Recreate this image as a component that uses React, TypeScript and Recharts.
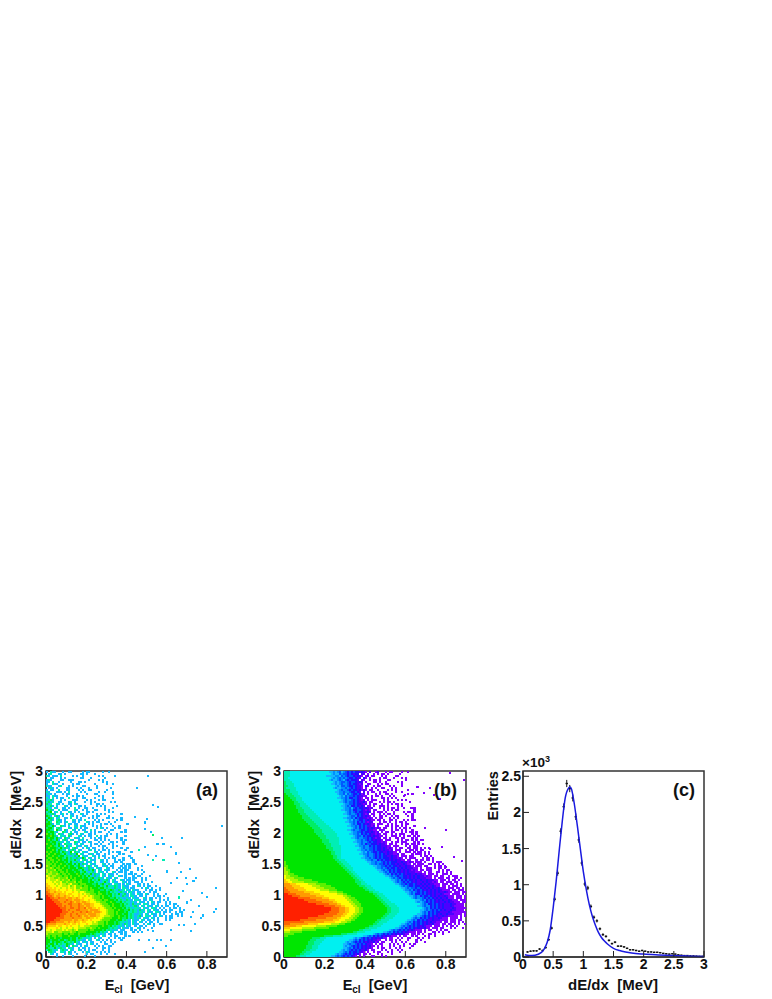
import React from 'react';
import {
  ScatterChart, ComposedChart, Scatter, Line, XAxis, YAxis, ReferenceArea, ErrorBar, Label,
} from 'recharts';

// colour levels of the 2D histograms, low to high
const LEVEL_COLORS: Record<string, string> = {
  a: '#8000ff', b: '#4c00ff', c: '#1a14ff', d: '#0058ff', e: '#0090ff', f: '#14b8ff',
  g: '#00f0f0', h: '#00eeb4', i: '#00ee64', j: '#00e600', k: '#5cf000', l: '#b0f400',
  m: '#ffff00', n: '#ffcc00', o: '#ff9a00', p: '#ff6400', q: '#ff2000',
};

// rows run top (3 MeV) to bottom (0 MeV). Before "|": letter + last column of that colour.
// After "|": one letter per column, "." is empty.
const HIST_A_ROWS = [
  '|f.hff...f..ff.....f.ff......f..f',
  '|.fh...ff.f.......ff.f...f',
  '|hf.fff.h.....f.f..f.......f.f.....f',
  '|..ff...f.f.......ff...f......f',
  '|fhf....ff..fff.......f....f.f',
  '|ff.h..f.....f...ff.f........f.f',
  '|f..hff..f....f.ff.......f.....f..f',
  '|hff...fh...f.f....ff.....f',
  '|.fhf.f....ff...f.f...f...f......f',
  '|f.ff..h...ff....f.f..ff.......f',
  '|hf...fff.f.h.....f.f......f..f...f',
  '|fhf.f...f.ff...f....f...ff.......f',
  '|ff.hff....f..f.ff.f.......f.f',
  '|hf.h.f.ff..h...f..ff....f...f....f',
  '|fhif...f.f...fff....f.f...f.ff',
  '|hifh..ff...fh.f....f..f.f.......f.f',
  '|ifh..hf.f..ff.hf......f..ff.f',
  '|hhif.f...hf.f...ff.f.....f.f.f.....f',
  '|ihf.hf..ff.f..h.f..ff..f.....f...f',
  '|jhif..h.fff...hf..f.f...ff...f.f',
  '|hij.fh.f...hf.f.f...ff.f.......f.f',
  '|ihhif..fh.f.ff...hf.f....f.f.f.......f',
  '|jif.hif.f...hf.f..ff...f.ff....f',
  '|hjih.fh..ff.h..f.f...f.f.f....ff.f...f',
  '|jhif.hif.f...hf.ff.h....f.f.f......f.f',
  '|ijh..ihf.fh..ff.f...hf.f.ff....f..f',
  '|jjif.hh..f.hf.ff...f.f.f...f.ff.f.......f',
  '|jihjf..ihf.f..hf.hff...f.f.f.....f..f',
  '|ijjh.hif...hf.fh.f.ff....f.hf.f...f.f',
  '|jjih.jhf.if..hf.f.ff..h.f....f..ff.....f',
  '|jijjhf..ihf.h.ff...hf.f.f.ff...f.....f.f',
  '|kjijh.ihf..hif.f.hf..ff.f.....f.f..f',
  '|jjkjif.hhf.if...hf.f.ff..h.f.ff....f...f',
  '|jijjhjhf.ihf..hff.h...f.f.ff.f.....f.f',
  '|jkjihjf.hif.hf..fhf.f...ff.f.f.f.....f.f',
  '|jjijjhihf.hf..ihf.ff.hf...f.f...ff.f..f',
  '|kjjijhjf.ihhf.hf.hf...f.ff.f...f.f....f',
  '|jjkjihjhf.ifh..hff.hf.f...f.ff...f.f',
  '|jkjjjihjhihf.hif..f.hf.ff...f.f..f...f..f',
  '|jjjkjhjihf.hhif.hf...fh.f.f.ff.f.......f',
  '|kjkjjijhjihfj.ihf.hff...hf.f...f.f.ff.....f',
  '|jkjjkjjihjhfihfj.hf..fhf.ff..f.f....f.f',
  '|kjjkjjijjhihfhifj.hff..hf.f.ff...f.f.....f',
  '|jkkjjkjjihjhihfihfjh.hf.f.h..f.f.ff...f...f',
  '|kjkkjjkjijjhihjhf.hif.hff..hf.f...f.f.f....f',
  '|kkjkjkjjjijhjhfihhf.fhf.h..ff.f...ff.f.....f',
  '|kkkjkjjkjjijjhjhjfihf.hff...hf.f.f....f.ff..f',
  '|lkjkkjkjjkjijjhijhf.hif.hf..fhf.ff...f.f.f.....f',
  '|kklkjkkjkjjijjjhjjihfihf.hff..hf.f..f.ff.f...f',
  '|lkkkljkkjjkjjijjihjhfihjf.hf.hff...f.f.ff....f.f',
  '|lklkkkjkkjkjjjijjhijhfhif.hhf.f..hf.ff.f..f.....f',
  '|kllkklkjkkjkjjjkjijhihjfihf.hf.hff.f...f.ff.f..f',
  '|mlkllkkkjkkjkjjjkjijhjhfifh.hf.fhf..hf.f...f.ff....f',
  '|lmllkklkkkljkjkjjjijjhijfhihf.hff.hf...f.f.ff..f.f',
  '|mmlllmlklkkljkkjjkjjjijhihjfhhif.hf..hf.ff.f...f.f',
  '|mmmlmllmkklkkkljkkjjjijjhihfhjhf.hff..hf.f..ff.f....f',
  '|nmmmlmlmllklmkkkjkkkjjjiijhijfhif.hhf.f.hf...ff.f.f',
  '|nnmmmlmmlllmklmkkkjkkjjjijjhihjfhhihf.hff..f.hf.f.ff..f',
  '|onnmnmmlmmlmllmkklkkkjkjjjijjhihhfihf.hhf.ff...f.hf.f...f',
  '|oonnnmnmmmnmmlmllkkkkjkkjjjiijhijihfifh.hf.hff...f.ff.f.f',
  '|ponnonnnmnmmmnmmlmmlkkkkjjkjjjijhihhfihf.hhf.ff.f..f.ff',
  '|ppoonnonnnmnnmmmnmlmllkkkjkkjjijjhihjfhif.hf.hff.hf..f.f...f',
  '|qpponoonnonnmnmmnmmnmlmlkkkjkjjijhihhfihf.hhf.ff.f...f.ff.f',
  '|qqppoopooonoonnonmnmmmmlkkkjkjjjiijhihffhf.hff..hf.ff.f.f...f',
  '|qqqpppoooopoonooonnmmnmmlkkkjkkjjjijhihfihf.hhf.ff.hf...f.f.f',
  '|qqqqpppoopooponoonoonnmmmllkkkjjkjjiijhihhfhf.hff.f.hf.ff..f.f',
  '|qqqqqpppoooppoooponooonnmmmlkkkjjkjjjijhihfifhf.hhf.ff.f...f.f.ff',
  '|qqqqqqppopoopooopoonoonnmmmmlkkkjkjjjijihhfhif.hf.hff.hf.f.ff..f.f',
  '|qqqqqqqpppooppoopoopnoonnmnmmlkkkjkjjjijhihfhhf.hff.hhf.f.f..f.ff.f',
  '|qqqqqqqqppopoooppoooonoooonmmmlkkkjjkjjiijhihfifh.hf.hff.f.f.ff...f.f',
  '|qqqqqqqqpppoopooopoopoonooonmmlkkkjkjjjijhhihfhhf.hff.hhf.ff.f..f.ff',
  '|qqqqqqqpppoopoopoooonoooonnmmmlkkkjkjjijjhihffhf.hf.hff.f.f...f.ff.f',
  '|qqqqqqqppooopoooponoonooonnmmlllkkjjkjjijhihfhif.hhf.ff.hf.f.ff..f.f',
  '|qqqqqppppoooopoooonnoonnmnmmlkkkkjjjkjiijhihfhf.hff.hf.f...f.ff',
  '|qqqqpppoooooonoonnonnmnmmmmlkkkkjjjijjhihf.hff.hf.ff.f.f...f.f',
  '|qqpppoooonnonnonnmnnmmmlmlkkkjkjjjijihhfhf.hf.hf.f.ff..f',
  '|poooonnnnonnmnnmnmmmnmmlllkkkjkjjjijihfihf.hff..f.hf.f..ff',
  '|onnnnmnnmmnmnmmmlmmlllkkkkjjkjjijhihfhf.hf..f.ff.f...f',
  '|nmmmmnmlmmlmmlmmllllkklkkjkjjjjihihhf.hff.f..hf.f...f',
  '|mmlmmlllmlmllklmkkkkkjkkjjjjijhihfhf.ff...f.f.f...f',
  '|lllmkkllkkkklkkjkkkkjjjjjijhihf.hf..ff.f...f.f',
  '|lkkkkkkkjkkjkkjjkjjjjjijihhfhf.ff.f..f.f',
  '|kkjkkjkkjjjkjjjjijjjhihfihf.hf..f.ff...f.f',
  '|jkjjkjjijjjjijjhjihfhhf.f.hf...f..f.f.f',
  '|jjijjjijjhijijjhihff.hf..hf.f.f.f....f',
  '|jjhjijjihjihihjhf.fhf.ff...f.f..f.f',
  '|jijjhjhihhjihf.hff..f.hf.f...ff..f',
  '|ijhjihihfhjf.ihf.f.hf...f.f.f..ff',
  '|jihhjhfihf.hhf..f.ff.f...f..ff.f',
  '|hjihfh.hihf.hf..hf.f.f.ff...f..f',
  '|.hihf..hhf.if.f...f.hf...f.f.f.f',
  '|..hf.f...f.hf..f....f.ff...f..f...f',
  '|.....f..f....f.....f....f',
];

// isolated entries of panel (a), read directly: [E, dE/dx, level]
const HIST_A_OUTLIERS: [number, number, string][] = [
  [0.506, 2.92, 'f'], [0.454, 2.72, 'f'], [0.534, 2.45, 'f'], [0.555, 2.42, 'f'], [0.444, 2.26, 'f'],
  [0.504, 2.22, 'f'], [0.494, 2.17, 'f'], [0.494, 2.07, 'f'], [0.524, 2.02, 'f'], [0.534, 1.97, 'i'],
  [0.575, 1.92, 'f'], [0.554, 1.82, 'f'], [0.584, 1.82, 'f'], [0.675, 1.92, 'f'], [0.623, 1.77, 'f'],
  [0.645, 1.67, 'f'], [0.873, 2.12, 'f'], [0.494, 1.77, 'f'], [0.462, 1.73, 'h'], [0.507, 1.64, 'f'],
  [0.545, 1.63, 'f'], [0.534, 1.57, 'h'], [0.584, 1.57, 'h'], [0.844, 1.12, 'f'], [0.802, 0.97, 'f'],
  [0.774, 1.03, 'f'], [0.844, 0.77, 'f'], [0.835, 0.72, 'f'], [0.722, 0.92, 'f'], [0.703, 1.18, 'f'],
  [0.698, 1.27, 'f'], [0.744, 1.27, 'f'], [0.733, 1.22, 'f'], [0.714, 1.42, 'f'], [0.67, 1.37, 'f'],
  [0.653, 1.27, 'f'], [0.761, 0.83, 'f'], [0.781, 0.67, 'f'], [0.77, 0.63, 'f'], [0.741, 0.53, 'f'],
  [0.722, 0.42, 'f'], [0.686, 0.52, 'f'], [0.595, 0.18, 'f'], [0.623, 0.27, 'f'], [0.57, 0.27, 'f'],
  [0.553, 0.27, 'f'], [0.512, 0.27, 'f'], [0.534, 0.42, 'f'], [0.534, 0.14, 'f'], [0.492, 0.08, 'f'],
  [0.462, 0.27, 'f'], [0.479, 0.4, 'f'], [0.66, 1.52, 'f'], [0.6, 1.38, 'f'], [0.62, 1.2, 'f'],
  [0.68, 1.06, 'f'], [0.66, 0.96, 'h'], [0.7, 0.88, 'f'], [0.73, 0.73, 'f'], [0.72, 0.64, 'f'],
  [0.66, 0.52, 'f'], [0.62, 0.44, 'f'],
];

const HIST_B_ROWS = [
  'h3g22|ffefedfedcdcdccbcba.b..ab...a.aa....a..a',
  'h3g23|feffdeddcdcbcc.bb.a..a.a.aa.a.....a',
  'h3g21|ffffeefdedcddcbcba.ab.aa...a.a....aa',
  'h2g23|fefedededccdcbb.ca.a....a.aa...a...a.a',
  'h3g22|feffedefdcdcccb.ba..a.aa.a...aa.......a',
  'i1h4g24|fefeddedcddcbcb.a...aa.a..a.....a.a',
  'i1h5g23|ffefedeedcdccbab..aa...a.a.aa......a',
  'i2h5g25|fefddedccdcbba.ca..a.aa....a.a...a',
  'i1h6g24|feffeededcdcbba.a..a.a..aa...a.a',
  'i3h6g26|fedeedcdccbcaba.aa..a....a.a.a.....a',
  'i3h7g25|ffeedeedccdcb.b.a.aa..a.aa....a..a',
  'j1i4h7g26|feedfdedccdcab.a...a.a..aa.a.......a.a',
  'j2i5h8g27|fefdeddcdcbbaa..a.aa.a...a.a....a',
  'j3i6h9g26|ffeedeccddcba.aa.a....aa.a.a.a',
  'j4i6h9g28|fedeedcdcbab.a.aaa...a.a....a.a.a',
  'j5i7h10g27|ffededdcdcbbca.aa...a.a.aa.a.......a',
  'j5i8h11g29|feeddcdccbab.a.aa..a..a.a.aa.a',
  'j6i8h12g28|ffedeccdcbcb.aa.a..aaa.a....a.a',
  'j6i9h13g29|feedfdcdccbcbab...a.a.a.aa.a..a....a',
  'j7i10h14g28|ffeedeccddcbaba.aa...a.a.a.aa.......a',
  'j7i10h15g30|fededcdccbbcb.a.aaa.a...a....a.aa.a',
  'j8i11h16g29|ffedeedcdcbab.aa..a.a.aa.a.....a..a',
  'j9i12h17g31|feddecdcbcba.a..aa.a..a.aa....a.a',
  'j9i13h18g29|ffeedecdccbbaba.a.aa...a.a.a......a',
  'j10i14h19g31|fefdedccdbcbaa.aa.a..aa.a...a.a.aa',
  'j11i15h20g30|ffeedecdcdbabb...a.aa.a..a.aa.a',
  'j12i16h21g32|fedeccdcbcbaa.aaa..a.a.a..a.aa',
  'j13i17h22g31|ffeedecdcdbbab.a...aa.a.aa.a.a...a',
  'j14i18h23g33|fedecdcdcbcbaba.aa..a.a.a.aa.a......a',
  'j15i19h24g31|ffedeedccdcbbaa.aaa...a.aa.a.a..a',
  'j15i19h25g33|feeddcdccbcbab.a.aa.aa...a.a.aa.a',
  'j16i20h26g32|ffeedecdcdcbbaba.aa..a.a.aaa...a.a',
  'j17i21h26g34|feddecdccbcbbaa.a..aaa.a.a.aa.a.a',
  'j18i21h27g33|ffedeeddcdcbabb.aa.a..aa.aa...a.a',
  'j19i22h27g35|feededcdcbcbba.aaa...a.a.aa.a.a.aa',
  'j19i22h27g34|ffeedeedcdccbbaba..a.aa.aaa...a.a',
  'j20i23h27g36|fedecddcccbcbba.aa.a..a.aa.aa.a.a',
  'j21i23h28g35|ffeedeecdcdccbbbaa.aaa...a.a.aa',
  'j21i24h28g37|fedeeddcdccbcbaba.a.aa..aa.aa.a.a.a',
  'j22i24h28g36|ffeededdcdccbcbbab.aaa..a.aa.a.aa',
  'j23i25h28g38|fefdedccdccbbcbbaa.a..aaa.a.aa.a.a',
  'j23i25h28g37|ffeedeedcdcdcbcbbaab.aa...a.aaa.a.a',
  'j24i26h28g39|fedeedcdcdccbbcbba.aaa.aa...a.aa.a',
  'j24i26h28g38|ffeededcdcdcccbcbbaba.a.aaa...a.aa.a',
  'j25i27h30g40|feedeecdcdccbcbcbbaa.aa..a.aa.aa.a',
  'k1j26i28h31g41|ffeedeedcdcdcccbbcbbaba.aaa.a...a.aaa',
  'k1j27i29h32g42|feededdcdcdccbcbbcbaa.a.aaa..aa.a.a.a',
  'k2j28i30h33g44|ffeeddcdcdccbcbbcbba.aaa.aa...a.aa.a',
  'l1k2j29i31h34g45|feededcdccdcbcbcbbbaa.a..aaa.a.aa.a',
  'l1k3j30i32h34g46|ffededcdcdccbcbcbaba.aa.aaa...a.a.aa',
  'l2k3j31i33h35g47|ffedecdcdccbcbcbbbaaa.a.aa..aa.a.a.a',
  'l2k5j32i34h36g49|fedecdcdcdcbccbbcbbaa.aaa.a..aaa.a',
  'm1l3k7j33i35h37g50|ffededcddccbcbcbcbbabaa.aa.aa..a.aaa',
  'm1l5k10j34i36h38g52|fededcdccbcbcbcbbbaaa.a.aaa.aa..aa.a',
  'n1m3l7k14j35i37h39g53|ffedecdcdccbcbcbbcbbbaa.aaa.a.aa.a',
  'n2m4l10k17j35i38h40g54|fededcdcdcbcbbcbcbbaba.aa.aaa.aa',
  'o3n6m12l16k21j36i38h41g55|ffeddcdccdcbcbcbcbbaaa.aaa.aa.a.a',
  'o4n8m14l18k23j37i40h43g57|fededccdccbcbcbbcbaa.aa.a.aaa.a',
  'p1o5n10m16l20k25j39i41h44g58|ffededdcdcbcbcbcbbcaaa.aaa.aa.a',
  'p2o7n11m18l22k26j40i42h45g59|feedecdcdcbcbcbcbcbaaaa.aa.aaa',
  'p3o10n15m22l26k29j42i44h47g60|ffededcdcdcbcbcbcbbcbaa.aaa.aa',
  'q2p6o13n18m26l29k31j44i46h49g61|fedeccdcdcbcbcbbcbaaa.aaaa.a',
  'q4p8o16n20m29l31k33j45i47h50g62|ffedecdccdcbcbcbbcbaaa.aaa.a',
  'q7p13o19n22m30l32k35j46i48h51g63|fedeedcdcdcbcbcbbcaaa.aaa.a',
  'q10p16o22n25m31l33k36j47i49h52g65|ffedecdcdcbcbcbbcbaaa.aaa',
  'q12p19o24n26m32l34k37j48i50h53g65|fefedcdcdcbcbbcbcbbaaa.aa',
  'q16p22o26n28m33l35k38j49i51h55g67|fedeccdcdcbcbbbcbbaaaa.a',
  'q20p25o28n30m34l36k38j50i52h56g66|ffedeecdcdcbcbbbcbaaaaa',
  'q23p27o30n32m35l37k39j51i53h57g68|fedecdcdcbcbbbbcbaaaaaa',
  'q23p27o30n32m35l37k39j51i53h57g67|ffededcdcdcbcbbcbbaaaa.',
  'q22p27o30n32m35l37k39j51i53h57g67|fedecdcdccbbbbcbaaaaaaa',
  'q20p26o29n31m34l36k38j50i52h56g66|ffedecdcdcbcbbcbbbaaaa.a',
  'q17p24o28n30m33l35k37j49i51h55g64|fefedcdcdcbcbbcbbaaaaa.a.a',
  'q12p21o26n28m32l34k36j48i50h54g63|fedecdcdcbcbbcbaaa.aaaa.a',
  'q8p16o24n27m30l33k35j46i48h52g61|ffedecdcdcbbcbbbaaaa.aaa.aa',
  'p10o20n25m28l31k33j45i47h51g60|fedecdcdcbcbcbbaaa.aa.aaa.a.a',
  'p3o12n17m23l27k30j44i46h49g58|ffededcdcdcbcbbcaaa.aa.aa.a.a..a',
  'o6n9m16l21k26j42i44h48g57|fededcdcdcbcbaaa.aaa.a.a.aa.a',
  'n3m9l15k22j40i42h46g55|ffedecdcdcbcbbcaa.aaa.aa...a.a...a',
  'm3l9k16j37i39h43g52|fededcdcdcbcbaaa.a.aa..a.a.aa',
  'l3k9j34i36h40g49|ffedecdcdcbcbaaa.aa.a...aa.a.a..a',
  'k5j28i31h36g44|fededcdcdcbcbbcbaa.aa.a.a..aa.a...a',
  'k2j20i24h29g39|ffedecdcdcbcbbaaa.a.aa..a.a...a.a..a',
  'j14i18h21g34|fefedcdcdcbcbbcaa.aa..a.a..aa...a.a..a',
  'j13i16h20g32|ffedecdcdcbcbbaa..a.aa.a.a...a...a.a',
  'j12i15h19g30|fefedcdcdcbcbbcab.aa...a.a..a.a....a...a',
  'j12i15h18g29|ffedeedcdcdcbba.a.aa...a.a.a..a..a.a',
  'j11i14h17g29|fefedcdcdcbcbcaa.a.a...a.a..a.a...a',
  'j11i14h17g29|ffedecdcdcbcbba..a.aa..a..a.a....a',
  'j10i13h16g28|fefedcdcdcbbca.aa...a.a..a..a.a',
  'j9i11h14g27|ffedecdccdbba.a..a.aa...a.a...a',
  'j8i10h13g25|fefedcdcdcbca.aa.a...a.a....a',
  'j6i8h11g23|ffededcdcdcba.a.a...aa...a.a',
];

// stragglers of panel (b) beyond the main band: [E, dE/dx, level]
const HIST_B_OUTLIERS: [number, number, string][] = [
  [0.82, 2.97, 'a'], [0.89, 2.86, 'a'], [0.66, 2.75, 'a'], [0.69, 2.65, 'a'], [0.74, 2.62, 'a'],
  [0.77, 2.55, 'a'], [0.72, 2.72, 'a'], [0.8, 2.05, 'a'], [0.63, 2.4, 'a'], [0.6, 2.62, 'a'],
  [0.78, 1.78, 'a'], [0.84, 1.62, 'a'], [0.88, 1.55, 'a'], [0.8, 1.45, 'a'], [0.72, 1.75, 'a'],
];

// panel (c), in units of 10^3 entries
const DATA_E = [0.075, 0.125, 0.175, 0.225, 0.275, 0.325, 0.375, 0.425, 0.475, 0.525, 0.575, 0.625, 0.675, 0.725, 0.775, 0.825, 0.875, 0.925, 0.975, 1.025, 1.075, 1.125, 1.175, 1.225, 1.275, 1.325, 1.375, 1.425, 1.475, 1.525, 1.575, 1.625, 1.675, 1.725, 1.775, 1.825, 1.875, 1.925, 1.975, 2.025, 2.075, 2.125, 2.175, 2.225, 2.275, 2.325, 2.375, 2.425, 2.475, 2.525, 2.575, 2.625, 2.675, 2.725, 2.775, 2.825, 2.875, 2.925, 2.975];
const DATA_N = [0.07, 0.08, 0.085, 0.085, 0.11, 0.09, 0.13, 0.24, 0.4, 0.8, 1.16, 1.74, 2.08, 2.4, 2.33, 2.2, 1.94, 1.62, 1.3, 1.01, 0.955, 0.7, 0.55, 0.5, 0.39, 0.31, 0.285, 0.23, 0.185, 0.205, 0.15, 0.15, 0.14, 0.12, 0.1, 0.1, 0.09, 0.08, 0.09, 0.08, 0.07, 0.07, 0.065, 0.065, 0.06, 0.05, 0.045, 0.04, 0.045, 0.04, 0.03, 0.025, 0.02, 0.02, 0.015, 0.015, 0.012, 0.01, 0.01];
const DATA_ERR = [0.01, 0.01, 0.01, 0.01, 0.012, 0.01, 0.012, 0.016, 0.02, 0.03, 0.035, 0.04, 0.045, 0.05, 0.05, 0.048, 0.045, 0.04, 0.036, 0.032, 0.03, 0.026, 0.024, 0.022, 0.02, 0.018, 0.016, 0.015, 0.013, 0.014, 0.012, 0.012, 0.012, 0.011, 0.01, 0.01, 0.01, 0.009, 0.01, 0.009, 0.008, 0.008, 0.008, 0.008, 0.008, 0.007, 0.007, 0.006, 0.007, 0.006, 0.006, 0.005, 0.005, 0.005, 0.004, 0.004, 0.004, 0.004, 0.004];
const CURVE_E = [0.03, 0.1, 0.2, 0.3, 0.35, 0.4, 0.45, 0.5, 0.55, 0.6, 0.65, 0.7, 0.75, 0.78, 0.8, 0.85, 0.9, 0.95, 1, 1.05, 1.1, 1.15, 1.2, 1.25, 1.3, 1.35, 1.4, 1.5, 1.6, 1.7, 1.8, 2, 2.2, 2.5, 2.8, 3];
const CURVE_N = [0.03, 0.02, 0.025, 0.06, 0.11, 0.2, 0.37, 0.68, 1.05, 1.47, 1.87, 2.2, 2.33, 2.35, 2.33, 2.12, 1.82, 1.5, 1.18, 0.93, 0.72, 0.56, 0.44, 0.34, 0.27, 0.22, 0.18, 0.12, 0.09, 0.07, 0.055, 0.04, 0.03, 0.02, 0.012, 0.008];

const TICKS_ECL = [0, 0.2, 0.4, 0.6, 0.8];
const TICKS_DEDX = [0, 0.5, 1, 1.5, 2, 2.5, 3];
const TICKS_ENTRIES = [0, 0.5, 1, 1.5, 2, 2.5];

const COLS = 90;
const ROWS = 93;
const E_MAX = 0.9;
const DEDX_MAX = 3;
const ENTRIES_MAX = 2.573;
const BIN_HALF = 0.02;
const FONT = '"Liberation Sans", Arial, sans-serif';

type Cell = { x: number; y: number; fill: string };

function decodeRows(rows: string[]): Cell[] {
  const cells: Cell[] = [];
  rows.forEach((row, r) => {
    const [runs, tail] = row.split('|');
    const y = DEDX_MAX * (1 - (r + 0.5) / ROWS);
    let col = 0;
    const put = (ch: string) => {
      if (ch !== '.' && col < COLS) cells.push({ x: ((col + 0.5) / COLS) * E_MAX, y, fill: LEVEL_COLORS[ch] });
      col++;
    };
    for (const m of runs.matchAll(/([a-q])(\d+)/g)) {
      while (col < Number(m[2])) put(m[1]);
    }
    for (const ch of tail) put(ch);
  });
  return cells;
}

const outlierCells = (list: [number, number, string][]): Cell[] =>
  list.map(([x, y, lvl]) => ({ x, y, fill: LEVEL_COLORS[lvl] }));

const CELLS_A = [...decodeRows(HIST_A_ROWS), ...outlierCells(HIST_A_OUTLIERS)];
const CELLS_B = [...decodeRows(HIST_B_ROWS), ...outlierCells(HIST_B_OUTLIERS)];

const POINTS = DATA_E.map((x, i) => ({ x, y: DATA_N[i], ex: BIN_HALF, ey: DATA_ERR[i] }));
const CURVE = CURVE_E.map((x, i) => ({ x, fit: CURVE_N[i] }));

const CellShape = (props: any) => (
  <rect
    x={props.cx - 1}
    y={props.cy - 1}
    width={2.1}
    height={2.1}
    fill={props.payload.fill}
    shapeRendering="crispEdges"
  />
);

const tickStyle = { fontFamily: FONT, fontSize: 14, fontWeight: 700, fill: '#111' };
const fmt = (v: number) => String(v);

function xTitle(cx: number, sub: boolean) {
  return () => (
    <text x={cx} y={240} textAnchor="middle" fontFamily={FONT} fontSize={sub ? 14.5 : 15} fontWeight={700} fill="#111">
      {sub ? (
        <>
          E<tspan fontSize={10} dy={3}>cl</tspan>
          <tspan dy={-3}>{'\u00a0\u00a0[GeV]'}</tspan>
        </>
      ) : (
        'dE/dx\u00a0\u00a0[MeV]'
      )}
    </text>
  );
}

function yTitle(top: number, text: string, x = 21) {
  return () => (
    <text transform={`translate(${x},${top}) rotate(-90)`} textAnchor="end" fontFamily={FONT} fontSize={14.6} fontWeight={700} fill="#111">
      {text}
    </text>
  );
}

const corner: React.CSSProperties = {
  position: 'absolute', fontFamily: FONT, fontWeight: 700, color: '#111', lineHeight: 1, whiteSpace: 'pre',
};

function HistPanel({ left, cells, right, letter, letterLeft }: { left: number; cells: Cell[]; right: number; letter: string; letterLeft: number }) {
  return (
    <div style={{ position: 'absolute', left, top: 750, width: 240, height: 249 }}>
      <ScatterChart width={240} height={249} margin={{ top: 21, right, bottom: 0, left: 0 }}>
        <XAxis
          type="number" dataKey="x" domain={[0, E_MAX]} ticks={TICKS_ECL} interval={0} height={42}
          tick={tickStyle} tickFormatter={fmt} tickSize={-6} tickMargin={8} stroke="#222"
        >
          <Label content={xTitle(137, true)} />
        </XAxis>
        <YAxis
          type="number" dataKey="y" domain={[0, DEDX_MAX]} ticks={TICKS_DEDX} interval={0} width={46}
          tick={tickStyle} tickFormatter={fmt} tickSize={-6} tickMargin={9} stroke="#222"
        >
          <Label content={yTitle(21, 'dE/dx\u00a0\u00a0[MeV]')} />
        </YAxis>
        <Scatter data={cells} shape={CellShape} isAnimationActive={false} />
        <ReferenceArea x1={0} x2={E_MAX} y1={0} y2={DEDX_MAX} fill="none" stroke="#333" strokeWidth={1.5} />
      </ScatterChart>
      <div style={{ ...corner, left: letterLeft, top: 31, fontSize: 18 }}>{letter}</div>
    </div>
  );
}

function FitPanel() {
  return (
    <div style={{ position: 'absolute', left: 477, top: 750, width: 240, height: 249 }}>
      <ComposedChart width={240} height={249} margin={{ top: 21, right: 13, bottom: 0, left: 0 }} data={CURVE}>
        <XAxis
          type="number" dataKey="x" domain={[0, 3]} ticks={TICKS_DEDX} interval={0} height={42}
          tick={tickStyle} tickFormatter={fmt} tickSize={-6} tickMargin={8} stroke="#222"
        >
          <Label content={xTitle(136, false)} />
        </XAxis>
        <YAxis
          type="number" domain={[0, ENTRIES_MAX]} ticks={TICKS_ENTRIES} interval={0} width={46}
          tick={tickStyle} tickFormatter={fmt} tickSize={-6} tickMargin={8} stroke="#222"
        >
          <Label content={yTitle(21, 'Entries')} />
        </YAxis>
        <Scatter data={POINTS} dataKey="y" shape={() => null} isAnimationActive={false}>
          <ErrorBar dataKey="ey" direction="y" width={0} stroke="#111" strokeWidth={1} isAnimationActive={false} />
          <ErrorBar dataKey="ex" direction="x" width={0} stroke="#111" strokeWidth={1.4} isAnimationActive={false} />
        </Scatter>
        <Line dataKey="fit" type="monotone" stroke="#1a1ae0" strokeWidth={1.5} dot={false} isAnimationActive={false} />
        <ReferenceArea x1={0} x2={3} y1={0} y2={ENTRIES_MAX} fill="none" stroke="#333" strokeWidth={1.5} />
      </ComposedChart>
      <div style={{ ...corner, left: 196, top: 31, fontSize: 18 }}>(c)</div>
      <div style={{ ...corner, left: 45, top: 6, fontSize: 13.5 }}>
        ×10<sup style={{ fontSize: 9, lineHeight: 0 }}>3</sup>
      </div>
    </div>
  );
}

export default function App() {
  return (
    <div style={{ position: 'absolute', left: 0, top: 0, width: 772, height: 999, background: '#fff' }}>
      <HistPanel left={0} cells={CELLS_A} right={13} letter="(a)" letterLeft={196} />
      <HistPanel left={238} cells={CELLS_B} right={12} letter="(b)" letterLeft={196} />
      <FitPanel />
    </div>
  );
}
